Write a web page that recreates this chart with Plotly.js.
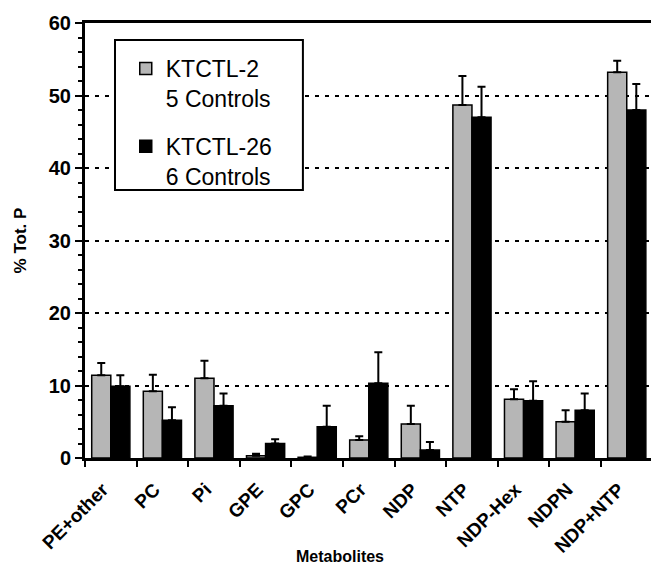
<!DOCTYPE html>
<html>
<head>
<meta charset="utf-8">
<script src="https://cdn.plot.ly/plotly-3.0.1.min.js"></script>
<style>html,body{margin:0;padding:0;background:#fff;}</style>
</head>
<body>
<div id="chart" style="width:651px;height:566px;"></div>
<script>
// Categories
var metabolites = ["PE+other", "PC", "Pi", "GPE", "GPC", "PCr", "NDP", "NTP", "NDP-Hex", "NDPN", "NDP+NTP"];
// KTCTL-2 (5 controls) mean % of total P
var ktctl2 = [11.4, 9.2, 11.0, 0.3, 0.1, 2.5, 4.7, 48.7, 8.1, 5.0, 53.2];
var ktctl2Err = [1.7, 2.3, 2.4, 0.3, 0.1, 0.5, 2.5, 4.0, 1.4, 1.6, 1.6];
// KTCTL-26 (6 controls)
var ktctl26 = [9.9, 5.2, 7.2, 2.0, 4.3, 10.3, 1.1, 47.0, 7.9, 6.6, 48.0];
var ktctl26Err = [1.5, 1.8, 1.7, 0.6, 2.9, 4.3, 1.1, 4.2, 2.7, 2.3, 3.6];
// Axis ticks
var yTicks = [0, 10, 20, 30, 40, 50, 60];

var FONT = "Liberation Sans, Arial, Helvetica, sans-serif";

var traces = [
  {
    type: "bar", x: metabolites, y: ktctl2, name: "KTCTL-2<br>5 Controls",
    legendgroup: "a",
    marker: {color: "#b6b6b6", line: {color: "#000", width: 1.5}},
    error_y: {type: "data", array: ktctl2Err, symmetric: false, color: "#000", thickness: 2, width: 4}
  },
  {
    type: "bar", x: metabolites, y: ktctl26, name: "KTCTL-26<br>6 Controls",
    legendgroup: "b",
    marker: {color: "#000", line: {color: "#000", width: 1.5}},
    error_y: {type: "data", array: ktctl26Err, symmetric: false, color: "#000", thickness: 2, width: 4}
  }
];

var layout = {
  width: 651, height: 566,
  margin: {l: 85, r: 0, t: 23, b: 108},
  paper_bgcolor: "#fff", plot_bgcolor: "#fff",
  font: {family: FONT, color: "#000"},
  barmode: "group", bargap: 0.26, bargroupgap: 0,
  showlegend: true,
  legend: {
    x: 0.072, y: 0.945, xanchor: "left", yanchor: "top",
    bgcolor: "rgba(0,0,0,0)", borderwidth: 0,
    font: {family: FONT, size: 23, color: "#000"},
    tracegroupgap: 15, valign: "top"
  },
  xaxis: {
    type: "category", range: [-0.5, 10.47],
    tickson: "boundaries", ticks: "outside", ticklen: 6, tickwidth: 2, tickcolor: "#000",
    tickangle: -45, ticklabelstandoff: 10, ticklabelshift: -8,
    tickfont: {family: FONT, size: 19, color: "#000", weight: "bold"},
    showline: true, linecolor: "#000", linewidth: 3, mirror: true,
    showgrid: false, zeroline: false, fixedrange: true
  },
  xaxis2: {
    overlaying: "x", anchor: "y", type: "linear", range: [-0.5, 10.47],
    tickvals: [-0.5, 0.5, 1.5, 2.5, 3.5, 4.5, 5.5, 6.5, 7.5, 8.5, 9.5, 10.5],
    ticks: "inside", ticklen: 7, tickwidth: 2, tickcolor: "#000",
    showticklabels: false, showline: false, showgrid: false, zeroline: false
  },
  yaxis: {
    range: [0, 60], tickvals: yTicks, ticktext: yTicks.map(String),
    ticks: "outside", ticklen: 7, tickwidth: 2, tickcolor: "#000",
    minor: {dtick: 2, ticks: "outside", ticklen: 4, tickwidth: 2, tickcolor: "#000", showgrid: false},
    tickfont: {family: FONT, size: 20, color: "#000", weight: "bold"},
    showline: true, linecolor: "#000", linewidth: 3,
    showgrid: true, gridcolor: "#000", gridwidth: 2, griddash: "4px,6px",
    zeroline: false,
    title: {text: "% Tot. P", font: {family: FONT, size: 17, color: "#000", weight: "bold"}, standoff: 18}
  },
  yaxis2: {
    overlaying: "y", anchor: "x", side: "left", range: [0, 60], tickvals: yTicks,
    ticks: "inside", ticklen: 7, tickwidth: 2, tickcolor: "#000",
    showticklabels: false, showline: false, showgrid: false, zeroline: false
  },
  shapes: [
    {type: "rect", xref: "paper", yref: "paper", x0: 0.053, x1: 0.385, y0: 0.616, y1: 0.961,
     line: {color: "#000", width: 2}, fillcolor: "#fff", layer: "above"}
  ],
  annotations: [
    {text: "Metabolites", xref: "paper", yref: "paper", x: 0.451, y: -0.226,
     xanchor: "center", yanchor: "middle", showarrow: false,
     font: {family: FONT, size: 16, color: "#000", weight: "bold"}}
  ]
};

Plotly.newPlot("chart", traces, layout, {displayModeBar: false, staticPlot: true});
</script>
</body>
</html>
